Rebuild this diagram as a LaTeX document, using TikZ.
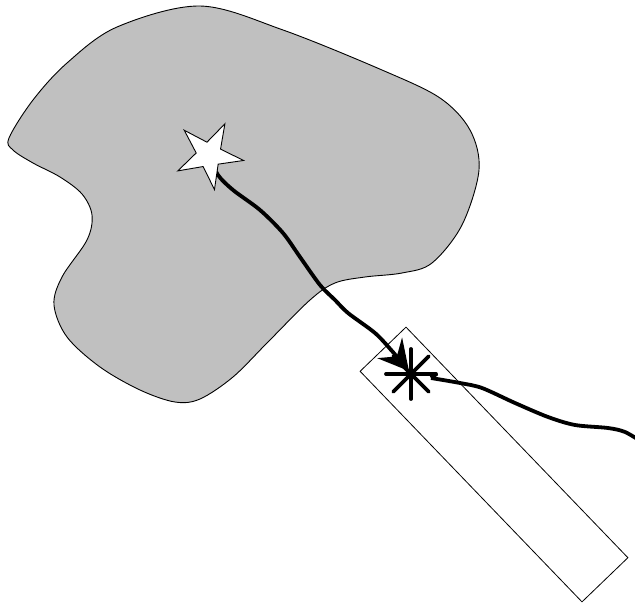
\documentclass[tikz,border=0pt]{standalone}
\usetikzlibrary{shapes.geometric,arrows.meta}
\definecolor{blobgray}{RGB}{192,192,192}
\tikzset{
  blob/.style={draw=black,fill=blobgray,line width=0.9pt},
  srcstar/.style={star,star points=5,star point ratio=2.7,minimum size=70pt,inner sep=0pt,
    shape border rotate=-27,draw=black,fill=white,line width=0.9pt},
  slab/.style={rectangle,draw=black,line width=0.8pt,minimum width=320pt,minimum height=63.7pt,inner sep=0pt,rotate=-46.1},
  ray/.style={line width=3.8pt,line join=round,-{Stealth[length=30pt 0,width=32pt 0,inset=11pt 0]}},
  track/.style={line width=3.8pt,line join=round},
  spark/.style={line width=3.8pt,line cap=round}
}
\begin{document}
\begin{tikzpicture}[x=1pt,y=-1pt]
\useasboundingbox (0,0) rectangle (635,604);
% blob
\draw[blob] plot[smooth cycle,tension=0.55] coordinates {
 (9,138) (33,100) (67,63) (117,27) (200,6) (283,30) (382,70) (440,98) (470,130)
 (479,170) (462,225) (432,263) (402,273) (365,277) (335,283) (310,300)
 (267,343) (233,377) (200,399) (175,402) (140,390) (100,367) (67,337)
 (54,305) (62,277) (87,240) (92,215) (82,194) (60,177) (33,163) (13,150)};
% rectangle
\node[slab] (det box) at (494,464.5) {};
% path
\coordinate (s) at (209,155);
\coordinate (hit) at (409,371);
\draw[ray] plot[smooth,tension=0.5] coordinates {(s) (218,175) (233,190) (260,210) (283,233) (300,257) (320,285) (335,300) (348,313) (375,333) (392,351) (hit)};
\node[srcstar] (src) at (s) {};
% asterisk
\coordinate (det) at (411,374);
\foreach \a in {0,45,90,135}
  \draw[spark] (det) ++(\a:25) -- ++(\a+180:50);
% outgoing track
\coordinate (kink) at (431,378);
\coordinate (exit) at (642,442);
\draw[track] (437,373.5) -- (kink);
\draw[track] plot[smooth,tension=0.5] coordinates {(kink) (460,383) (482,388) (515,403) (548,417) (575,425) (608,428) (625,432) (exit)};
\end{tikzpicture}
\end{document}
